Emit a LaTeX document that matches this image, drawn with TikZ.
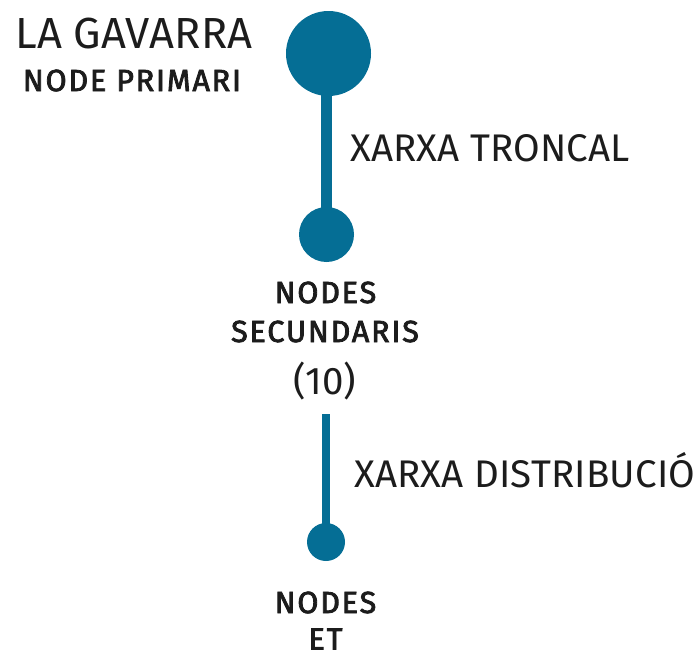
\documentclass[tikz,border=0pt]{standalone}
\usepackage{fontspec}
\setmainfont{Fira Sans}
\newfontfamily\heavyfont[LetterSpace=6,FakeBold=2.6]{Fira Sans}
\newfontfamily\lightfont[LetterSpace=0.5]{Fira Sans}
\definecolor{netblue}{HTML}{056E95}
\definecolor{txt}{HTML}{1C1C1C}
\begin{document}
\begin{tikzpicture}[x=1pt,y=-1pt,
  dot/.style={circle,fill=netblue,inner sep=0pt,minimum size=#1},
  link/.style={draw=netblue,line width=#1},
  light/.style={text=txt,inner sep=0pt,font=\lightfont\fontsize{38.5}{40}\selectfont},
  heavy/.style={text=txt,inner sep=0pt,font=\heavyfont\fontsize{30.5}{32}\selectfont},
]
\useasboundingbox (0,0) rectangle (695,653);
\node[dot=85pt] (prim) at (328.5,53.5) {};
\node[dot=55pt] (sec) at (326.5,234.5) {};
\node[dot=38pt] (et) at (326,542) {};
\coordinate (d0) at (326,414);
\coordinate (p0) at (326.5,60);
\draw[link=11pt] (p0) -- (sec.center);
\draw[link=8pt] (d0) -- (et.center);
\node[light,anchor=base west,font=\lightfont\fontsize{43.5}{48}\selectfont] (t1) at (15,48) {LA GAVARRA};
\node[heavy,anchor=base] (t2) at (132,91) {NODE PRIMARI};
\node[light,anchor=base west] (t3) at (350,161) {XARXA TRONCAL};
\node[heavy,anchor=base] (t4) at (325.5,303) {NODES};
\node[heavy,anchor=base] (t5) at (325,342) {SECUNDARIS};
\node[light,anchor=base] (t6) at (325,394) {(10)};
\node[light,anchor=base west] (t7) at (354,487) {XARXA DISTRIBUCIÓ};
\node[heavy,anchor=base] (t8) at (325.5,613) {NODES};
\node[heavy,anchor=base] (t9) at (325.5,649.5) {ET};
\end{tikzpicture}
\end{document}
